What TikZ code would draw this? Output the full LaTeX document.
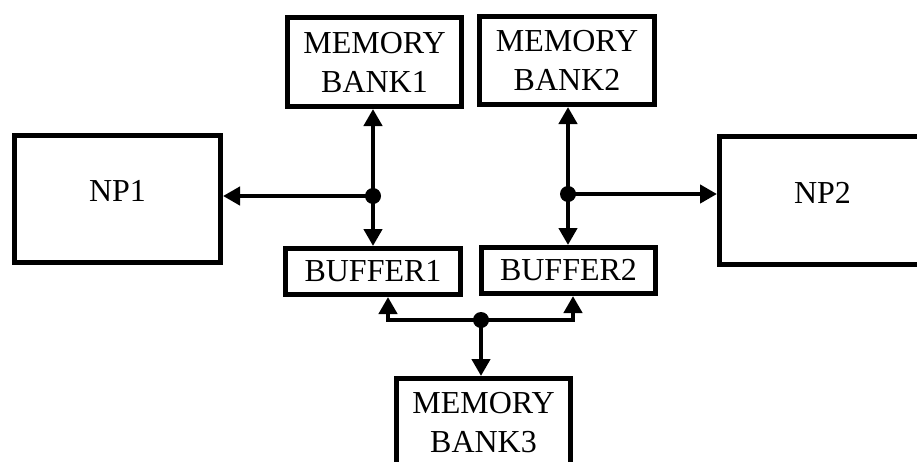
\documentclass[tikz,border=0pt]{standalone}
\usepackage{fontspec}
\setmainfont{Liberation Serif}
\usetikzlibrary{arrows.meta}
\begin{document}
\begin{tikzpicture}[x=1pt,y=-1pt,
  blk/.style={draw=black, line width=5pt, fill=white, inner sep=0pt,
    align=center, font=\fontsize{32}{39}\selectfont},
  link/.style={line width=4.5pt, line join=miter},
  tipa/.style={-{Triangle[length=17pt,width=18pt]}},
  tipb/.style={{Triangle[length=17pt,width=18pt]}-{Triangle[length=17pt,width=18pt]}},
  dot/.style={fill=black}]
\path[use as bounding box, clip] (0,0) rectangle (917,461);

% processor blocks
\node[blk, minimum width=206pt, minimum height=127pt, text depth=16pt] (np1) at (117.5,199) {NP1};
\node[blk, minimum width=206pt, minimum height=128pt, text depth=16pt] (np2) at (822.5,200.5) {NP2};

% memory banks
\node[blk, minimum width=174pt, minimum height=89pt] (mb1) at (374.5,62) {MEMORY\\BANK1};
\node[blk, minimum width=175pt, minimum height=88pt] (mb2) at (567,60.5) {MEMORY\\BANK2};
\node[blk, minimum width=174pt, minimum height=89pt] (mb3) at (483.5,423) {MEMORY\\BANK3};

% buffers
\node[blk, minimum width=175pt, minimum height=46pt] (b1) at (373,271.5) {BUFFER1};
\node[blk, minimum width=174pt, minimum height=46pt] (b2) at (568.5,270.5) {BUFFER2};

% junction points
\coordinate (j1) at (373,196);
\coordinate (j2) at (568,194);
\coordinate (j3) at (481,320);
\coordinate (bl) at (388,320);
\coordinate (br) at (573,320);

% memory bank <-> buffer links
\draw[link, tipb] (j1 |- mb1.south) -- (j1 |- b1.north);
\draw[link, tipb] (j2 |- mb2.south) -- (j2 |- b2.north);

% branches to the processors
\draw[link, tipa] (j1) -- (j1 -| np1.east);
\draw[link, tipa] (j2) -- (j2 -| np2.west);

% shared bus below the buffers
\draw[link, tipb] (bl |- b1.south) -- (bl) -- (br) -- (br |- b2.south);
\draw[link, tipa] (j3) -- (j3 |- mb3.north);

% junction dots
\fill[dot] (j1) circle[radius=8pt];
\fill[dot] (j2) circle[radius=8pt];
\fill[dot] (j3) circle[radius=8pt];
\end{tikzpicture}
\end{document}
